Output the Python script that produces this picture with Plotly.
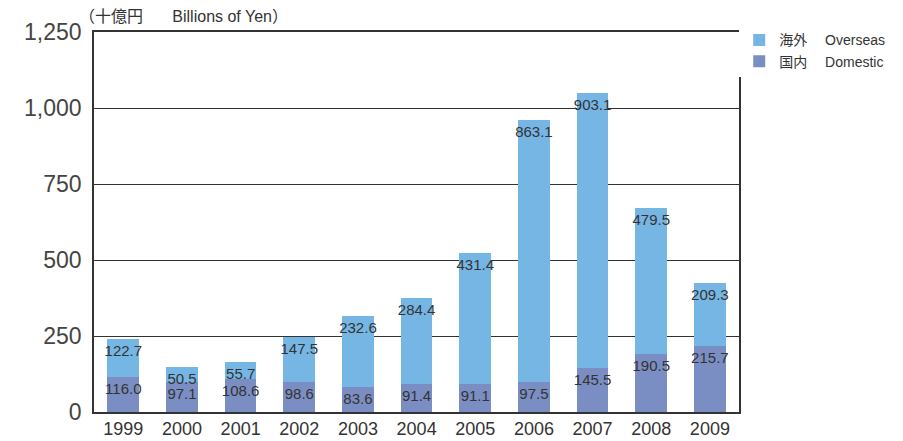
import plotly.graph_objects as go

years = ["1999", "2000", "2001", "2002", "2003", "2004", "2005", "2006", "2007", "2008", "2009"]
domestic = [116.0, 97.1, 108.6, 98.6, 83.6, 91.4, 91.1, 97.5, 145.5, 190.5, 215.7]
overseas = [122.7, 50.5, 55.7, 147.5, 232.6, 284.4, 431.4, 863.1, 903.1, 479.5, 209.3]

font = "Liberation Sans, Noto Sans CJK JP, sans-serif"

fig = go.Figure()

fig.add_trace(go.Bar(
    x=years, y=domestic,
    name="国内　\u00a0Domestic",
    marker=dict(color="#7b8ec3", line=dict(width=0)),
    text=[f"{v:.1f}" for v in domestic],
    textposition="inside", insidetextanchor="end", textangle=0,
    constraintext="none",
    textfont=dict(size=15, color="#333333", family=font),
))
fig.add_trace(go.Bar(
    x=years, y=overseas,
    name="海外　\u00a0Overseas",
    marker=dict(color="#76b6e4", line=dict(width=0)),
    text=[f"{v:.1f}" for v in overseas],
    textposition="inside", insidetextanchor="end", textangle=0,
    constraintext="none",
    textfont=dict(size=15, color="#333333", family=font),
))

# page body has an 8px margin, so the figure is 8px smaller than the window
fig.update_layout(
    width=895, height=433, autosize=False,
    barmode="stack", bargap=0.46,
    plot_bgcolor="white", paper_bgcolor="white",
    margin=dict(l=86, r=158, t=24, b=29),
    font=dict(family=font, color="#333333"),
    uniformtext=dict(minsize=14, mode="show"),
    legend=dict(
        xref="container", x=0.817, y=1.02, xanchor="left", yanchor="top",
        traceorder="reversed", font=dict(size=14, color="#333333"),
        itemwidth=30, tracegroupgap=0,
    ),
    annotations=[dict(
        text="（十億円　\u00a0\u00a0\u00a0Billions of Yen）", xref="paper", yref="paper",
        x=-0.026, y=1.012, xanchor="left", yanchor="bottom", showarrow=False,
        font=dict(size=16, color="#333333"),
    )],
)

fig.update_yaxes(
    range=[0, 1250], tickvals=[0, 250, 500, 750, 1000, 1250], tickformat=",",
    showgrid=True, gridcolor="#333333", gridwidth=1.2,
    showline=True, linecolor="#333333", linewidth=1.5, mirror=True,
    zeroline=False, ticks="", ticklabelstandoff=6, automargin=False,
    tickfont=dict(size=23, color="#444444"),
)
fig.update_xaxes(
    showline=True, linecolor="#333333", linewidth=1.5, mirror=True,
    ticks="", automargin=False, tickfont=dict(size=18, color="#333333"),
)

fig.write_html("out.html")
